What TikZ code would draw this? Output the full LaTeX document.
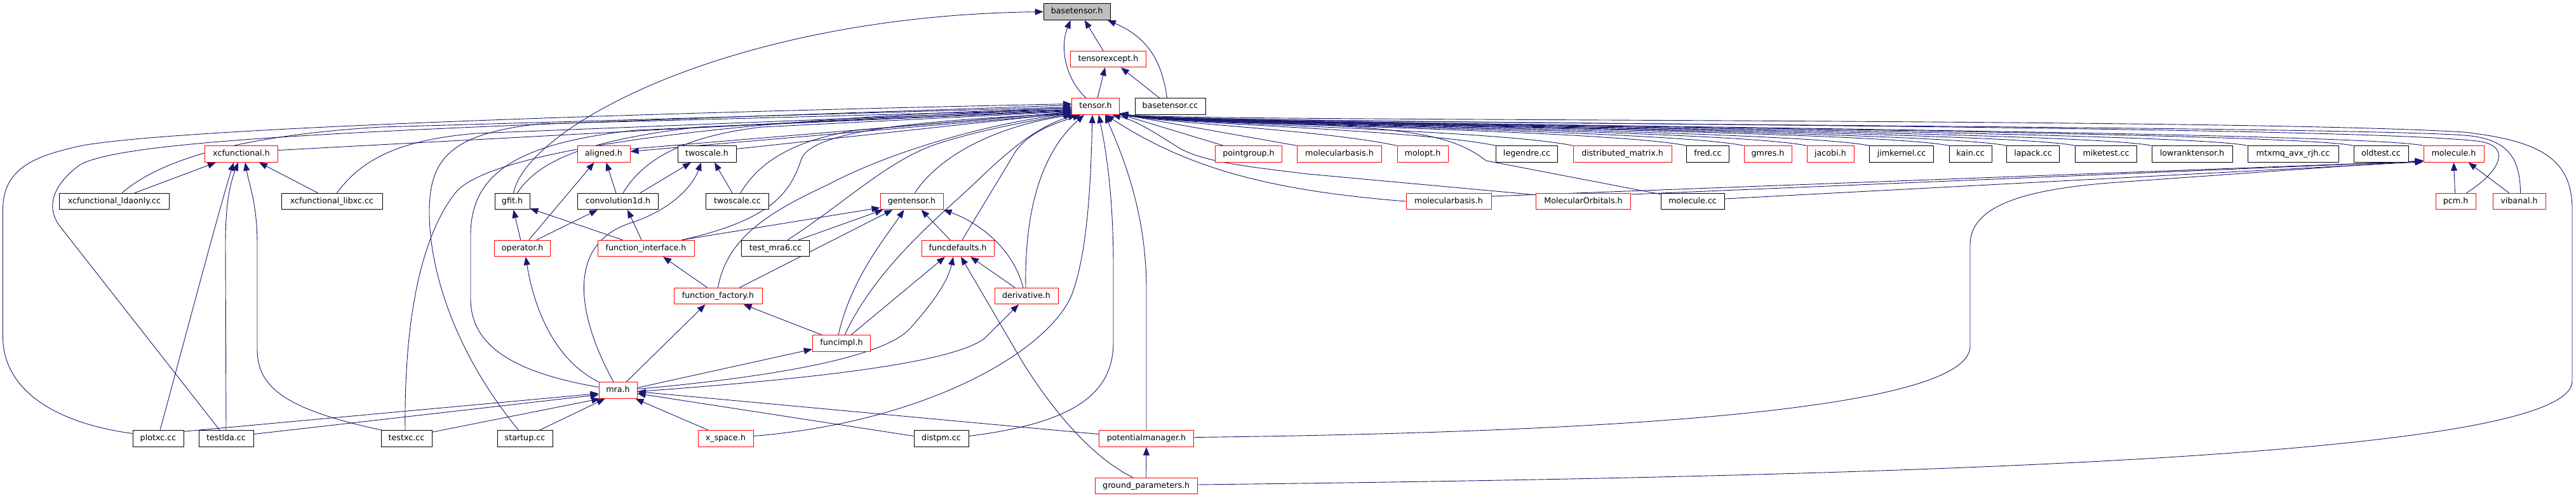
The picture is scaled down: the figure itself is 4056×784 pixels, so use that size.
\documentclass[tikz,border=0pt]{standalone}
\usepackage{fontspec}
\setmainfont{DejaVu Sans}
\usetikzlibrary{arrows.meta,calc}
\definecolor{edgec}{HTML}{191970}
\definecolor{redb}{HTML}{FF0000}
\definecolor{grayf}{HTML}{BFBFBF}
\pgfdeclarelayer{bg}
\pgfsetlayers{bg,main}
\tikzset{
  box/.style={draw, line width=1.0pt, inner sep=0pt, minimum height=25.5pt, fill=white,
    font=\fontsize{12.7}{15}\selectfont, text=black, text height=9.5pt, text depth=2.6pt},
  bk/.style={box, draw=black},
  rd/.style={box, draw=redb},
  gr/.style={box, draw=black, fill=grayf},
  edge/.style={draw=edgec, line width=0.9pt, -{Triangle[length=13pt,width=10pt]}},
}
\begin{document}
\begin{tikzpicture}[x=1pt,y=-1pt]
\useasboundingbox (0,0) rectangle (4056,784);
% row 0-2
\node[gr, minimum width=105pt] (bth) at (1695.7,18.5) {basetensor.h};
\node[rd, minimum width=119pt] (texc) at (1745,93) {tensorexcept.h};
\node[rd, minimum width=75pt] (ten) at (1725,167.5) {tensor.h};
\node[bk, minimum width=111pt] (btcc) at (1842.5,167.5) {basetensor.cc};
% row 3
\node[rd, minimum width=115.5pt] (xcf) at (380,242.5) {xcfunctional.h};
\node[rd, minimum width=83pt] (ali) at (950.5,242.5) {aligned.h};
\node[bk, minimum width=92pt] (tsh) at (1113,242.5) {twoscale.h};
\node[rd, minimum width=104.5pt] (pg) at (1966,242.5) {pointgroup.h};
\node[rd, minimum width=133.5pt] (mb1) at (2109,242.5) {molecularbasis.h};
\node[rd, minimum width=80pt] (mol) at (2240,242.5) {molopt.h};
\node[bk, minimum width=97pt] (leg) at (2404,242.5) {legendre.cc};
\node[rd, minimum width=155pt] (dm) at (2554.6,242.5) {distributed\_matrix.h};
\node[bk, minimum width=67pt] (fred) at (2689,242.5) {fred.cc};
\node[rd, minimum width=75pt] (gmres) at (2783.5,242.5) {gmres.h};
\node[rd, minimum width=74pt] (jac) at (2882,242.5) {jacobi.h};
\node[bk, minimum width=101pt] (jim) at (2994,242.5) {jimkernel.cc};
\node[bk, minimum width=67pt] (kain) at (3102.6,242.5) {kain.cc};
\node[bk, minimum width=83pt] (lap) at (3201,242.5) {lapack.cc};
\node[bk, minimum width=97pt] (mike) at (3316,242.5) {miketest.cc};
\node[bk, minimum width=127pt] (lrt) at (3451.5,242.5) {lowranktensor.h};
\node[bk, minimum width=143pt] (mtx) at (3610.5,242.5) {mtxmq\_avx\_rjh.cc};
\node[bk, minimum width=86pt] (old) at (3749,242.5) {oldtest.cc};
\node[rd, minimum width=95pt] (molh) at (3863.5,242.5) {molecule.h};
% row 4
\node[bk, minimum width=173.5pt] (xcl) at (180,317) {xcfunctional\_ldaonly.cc};
\node[bk, minimum width=159pt] (xcx) at (522.5,317) {xcfunctional\_libxc.cc};
\node[bk, minimum width=55pt] (gfit) at (806.5,317) {gfit.h};
\node[bk, minimum width=127pt] (conv) at (973,317) {convolution1d.h};
\node[bk, minimum width=99pt] (tscc) at (1161,317) {twoscale.cc};
\node[rd, minimum width=99pt] (gen) at (1435.5,317) {gentensor.h};
\node[rd, minimum width=134pt] (mb2) at (2281,317) {molecularbasis.h};
\node[rd, minimum width=149.5pt] (mo) at (2493,317) {MolecularOrbitals.h};
\node[bk, minimum width=100pt] (molcc) at (2665,317) {molecule.cc};
\node[rd, minimum width=63pt] (pcm) at (3866.5,317) {pcm.h};
\node[rd, minimum width=83pt] (vib) at (3966.5,317) {vibanal.h};
% row 5-8
\node[rd, minimum width=88pt] (op) at (822.7,391) {operator.h};
\node[rd, minimum width=152pt] (fi) at (1017,391) {function\_interface.h};
\node[bk, minimum width=107pt] (tm6) at (1221,391) {test\_mra6.cc};
\node[rd, minimum width=114pt] (fd) at (1508,391) {funcdefaults.h};
\node[rd, minimum width=139pt] (ff) at (1130.5,466) {function\_factory.h};
\node[rd, minimum width=100pt] (der) at (1616,466) {derivative.h};
\node[rd, minimum width=91.5pt] (fimpl) at (1325,540.5) {funcimpl.h};
\node[rd, minimum width=60pt] (mra) at (973,614.5) {mra.h};
% row 9-10
\node[bk, minimum width=80pt] (plot) at (249,690.5) {plotxc.cc};
\node[bk, minimum width=86pt] (tlda) at (356,690.5) {testlda.cc};
\node[bk, minimum width=80pt] (txc) at (640,690.5) {testxc.cc};
\node[bk, minimum width=87pt] (start) at (826.5,690.5) {startup.cc};
\node[rd, minimum width=87pt] (xsp) at (1142.5,690.5) {x\_space.h};
\node[bk, minimum width=86pt] (dist) at (1482,690.5) {distpm.cc};
\node[rd, minimum width=149.5pt] (pm) at (1805,690.5) {potentialmanager.h};
\node[rd, minimum width=161pt] (gp) at (1804.7,765) {ground\_parameters.h};

\begin{pgfonlayer}{bg}
% basetensor.h
\draw[edge] ($(ten.north)+(-15,0)$) .. controls (1678,125) and (1668,75) .. ($(bth.south)+(-10,0)$);
\draw[edge] ($(texc.north)+(-8,0)$) -- ($(bth.south)+(12,0)$);
\draw[edge] ($(btcc.north)+(-5,0)$) .. controls (1830,100) and (1810,60) .. ($(bth.south east)+(-5,0)$);
\draw[edge] ($(gfit.north)+(2,0)$) .. controls (830,200) and (1150,25) .. (bth.west);
% tensorexcept.h
\draw[edge] ($(ten.north)+(3,0)$) -- ($(texc.south)+(-5,0)$);
\draw[edge] ($(btcc.north)+(-17,0)$) -- ($(texc.south)+(20,0)$);
% xcfunctional.h
\draw[edge] ($(xcl.north)+(32,0)$) -- ($(xcf.south)+(-40,0)$);
\draw[edge] ($(xcx.north)+(-22,0)$) -- ($(xcf.south)+(28,0)$);
\draw[edge] ($(plot.north)+(3,0)$) .. controls (300,500) and (345,330) .. ($(xcf.south)+(-12,0)$);
\draw[edge] (tlda.north) -- (355,385) .. controls (355,320) and (362,290) .. ($(xcf.south)+(-5,0)$);
\draw[edge] ($(txc.north west)+(2,0)$) .. controls (450,645) and (405,610) .. (405,550) -- (405,385) .. controls (405,320) and (392,290) .. ($(xcf.south)+(6,0)$);
% tensor.h, from the left
\draw[edge] ($(xcf.east)+(0,-6)$) -- ($(ten.west)+(0,2)$);
\draw[edge] ($(xcl.north)+(12,0)$) .. controls (260,245) and (400,212) .. (600,200) -- ($(ten.west)+(0,1)$);
\draw[edge] ($(xcx.north)+(8,0)$) .. controls (570,250) and (630,220) .. (750,210) -- ($(ten.west)+(0,5)$);
\draw[edge] ($(plot.west)+(0,-8)$) .. controls (80,665) and (4.5,610) .. (4.5,530) -- (4.5,330) .. controls (4.5,262) and (60,245) .. (125,230) .. controls (250,205) and (900,180) .. ($(ten.west)+(0,-4)$);
\draw[edge] ($(tlda.north)+(-10,0)$) -- (95,357) .. controls (70,325) and (85,290) .. (125,260) .. controls (200,215) and (700,200) .. ($(ten.west)+(0,-2)$);
\draw[edge] ($(txc.north)+(-2,0)$) .. controls (636,480) and (670,360) .. (720,300) .. controls (800,220) and (1300,180) .. ($(ten.west)+(0,3)$);
\draw[edge] ($(start.north)+(-10,0)$) .. controls (720,560) and (675,430) .. (676,330) .. controls (677,250) and (710,210) .. (850,195) -- ($(ten.west)+(0,5)$);
\draw[edge] ($(mra.west)+(0,-5)$) .. controls (800,585) and (741,540) .. (741,470) -- (741,370) .. controls (741,270) and (820,225) .. (1000,205) -- ($(ten.west)+(0,7)$);
\draw[edge] ($(ali.east)+(0,-8)$) -- ($(ten.west)+(0,9)$);
\draw[edge] ($(ten.west)+(0,11)$) -- ($(ali.east)+(0,-4)$);
\draw[edge] ($(tsh.east)+(0,-8)$) -- ($(ten.west)+(0,10)$);
\draw[edge] ($(gfit.north)+(8,0)$) .. controls (850,250) and (930,220) .. (1100,200) -- ($(ten.west)+(0,6)$);
\draw[edge] ($(conv.north)+(8,0)$) .. controls (1010,255) and (1070,215) .. (1200,200) -- ($(ten.west)+(0,8)$);
\draw[edge] ($(tscc.north)+(5,0)$) .. controls (1195,255) and (1250,220) .. (1350,205) -- ($(ten.west)+(0,9)$);
\draw[edge] ($(fi.north east)+(-20,0)$) .. controls (1220,345) and (1245,300) .. (1262,250) .. controls (1280,205) and (1450,190) .. ($(ten.west)+(0,11)$);
\draw[edge] ($(tm6.north)+(19,0)$) .. controls (1330,320) and (1400,250) .. (1480,225) .. controls (1560,200) and (1640,188) .. ($(ten.west)+(0,11)$);
% tensor.h, from below left
\draw[edge] (ff.north) .. controls (1145,370) and (1220,330) .. (1305,290) .. controls (1400,240) and (1550,195) .. ($(ten.south west)+(0,-2)$);
\draw[edge] ($(gen.north)+(5,0)$) .. controls (1475,250) and (1560,200) .. ($(ten.south west)+(2,0)$);
\draw[edge] ($(fimpl.north)+(5,0)$) .. controls (1380,420) and (1480,340) .. (1533,290) .. controls (1585,240) and (1630,200) .. ($(ten.south west)+(8,0)$);
\draw[edge] ($(fd.north)+(7,0)$) -- (1600,237) .. controls (1625,205) and (1660,195) .. ($(ten.south west)+(15,0)$);
\draw[edge] ($(der.north)+(-1,0)$) .. controls (1613,330) and (1640,240) .. ($(ten.south west)+(20,0)$);
% tensor.h, from below
\draw[edge] ($(xsp.east)+(0,-4)$) .. controls (1450,665) and (1640,560) .. (1685,470) .. controls (1715,400) and (1718,260) .. ($(ten.south)+(-5,0)$);
\draw[edge] ($(dist.east)+(0,-4)$) .. controls (1700,665) and (1752,615) .. (1753,540) -- (1753,420) .. controls (1753,300) and (1740,230) .. ($(ten.south)+(5,0)$);
\draw[edge] (pm.north) -- (1805,455) .. controls (1805,330) and (1765,240) .. ($(ten.south)+(15,0)$);
% tensor.h, from the right
\draw[edge] ($(pg.north west)+(13,0)$) -- ($(ten.south east)+(0,-1)$);
\draw[edge] (mb1.north west) -- ($(ten.south east)+(0,-1)$);
\foreach \n in {mol,leg,dm,fred,gmres,jac,jim,kain,lap,mike,lrt,mtx,old,molh}
  \draw[edge] (\n.north west) .. controls ($(\n.north west)+(-120,-25)$) and (1850,195) .. ($(ten.south east)+(0,-1)$);
\draw[edge] ($(pcm.north east)+(-15,0)$) .. controls (3940,268) and (3955,228) .. (3900,222) .. controls (3650,195) and (1850,195) .. ($(ten.south east)+(0,-2)$);
\draw[edge] ($(vib.north)+(2,0)$) .. controls (3968,250) and (3950,218) .. (3880,213) .. controls (3650,197) and (1850,195) .. ($(ten.south east)+(0,-2)$);
\draw[edge] ($(gp.east)+(0,-2)$) .. controls (3000,750) and (4050,720) .. (4050,600) -- (4050,330) .. controls (4050,250) and (4000,222) .. (3880,208) .. controls (3500,185) and (1850,192) .. ($(ten.south east)+(0,-2)$);
\draw[edge] (mb2.west) .. controls (2000,300) and (1870,265) .. ($(ten.south east)+(-22,0)$);
\draw[edge] ($(mo.north west)+(0,3)$) -- (2060,274) .. controls (1960,262) and (1900,255) .. (1860,235) .. controls (1820,210) and (1790,190) .. ($(ten.south east)+(-12,0)$);
\draw[edge] ($(molcc.north west)+(0,2)$) -- (2340,253) .. controls (2300,222) and (2250,206) .. (2100,198) .. controls (1950,192) and (1850,192) .. ($(ten.south east)+(0,-2)$);
% gfit.h, aligned.h, twoscale.h, convolution1d.h
\draw[edge] ($(op.north)+(-3,0)$) -- ($(gfit.south)+(2,0)$);
\draw[edge] ($(fi.north west)+(40,0)$) -- ($(gfit.south east)+(0,-2)$);
\draw[edge] ($(op.north)+(10,0)$) -- ($(ali.south)+(-15,0)$);
\draw[edge] ($(conv.north)+(-3,0)$) -- ($(ali.south)+(4,0)$);
\draw[edge] ($(conv.north)+(35,0)$) -- ($(tsh.south)+(-25,0)$);
\draw[edge] ($(tscc.north)+(-8,0)$) -- ($(tsh.south)+(12,0)$);
\draw[edge] ($(mra.north)+(-7,0)$) .. controls (905,490) and (895,385) .. (990,352) .. controls (1060,330) and (1092,290) .. ($(tsh.south)+(-9,0)$);
\draw[edge] ($(op.north)+(22,0)$) -- ($(conv.south)+(-32,0)$);
\draw[edge] ($(fi.north)+(-7,0)$) -- ($(conv.south)+(15,0)$);
% function_interface.h, operator.h, function_factory.h, funcimpl.h
\draw[edge] ($(ff.north)+(-17,0)$) -- ($(fi.south)+(27,0)$);
\draw[edge] (mra.north west) .. controls (870,565) and (840,480) .. ($(op.south)+(5,0)$);
\draw[edge] ($(fimpl.north)+(-31,0)$) -- ($(ff.south)+(40,0)$);
\draw[edge] ($(mra.north)+(13,0)$) -- ($(ff.south)+(-20,0)$);
\draw[edge] ($(mra.east)+(0,-4)$) -- ($(fimpl.south west)+(0,-4)$);
% gentensor.h
\draw[edge] ($(fi.north east)+(-20,0)$) -- ($(gen.west)+(0,10)$);
\draw[edge] ($(tm6.north east)+(-18,0)$) -- ($(gen.south west)+(5,0)$);
\draw[edge] ($(ff.north)+(34,0)$) -- ($(gen.south west)+(20,0)$);
\draw[edge] ($(fimpl.north)+(-5,0)$) .. controls (1340,440) and (1390,380) .. ($(gen.south)+(-12,0)$);
\draw[edge] ($(fd.north)+(-12,0)$) -- ($(gen.south east)+(-35,0)$);
\draw[edge] ($(der.north)+(-5,0)$) .. controls (1595,390) and (1540,350) .. (gen.south east);
% funcdefaults.h
\draw[edge] ($(fimpl.north)+(15,0)$) -- ($(fd.south)+(-20,0)$);
\draw[edge] ($(mra.east)+(0,-2)$) .. controls (1200,595) and (1390,565) .. (1433,517) .. controls (1475,470) and (1493,440) .. ($(fd.south)+(-7,0)$);
\draw[edge] ($(der.north)+(-18,0)$) -- ($(fd.south)+(20,0)$);
\draw[edge] ($(gp.north west)+(60,0)$) .. controls (1720,720) and (1660,650) .. (1610,570) -- ($(fd.south)+(5,0)$);
% derivative.h
\draw[edge] ($(mra.east)+(0,2)$) .. controls (1300,595) and (1500,570) .. (1550,533) -- ($(der.south)+(-12,0)$);
% mra.h
\draw[edge] ($(plot.north east)+(0,2)$) -- ($(mra.west)+(0,5)$);
\draw[edge] ($(tlda.east)+(0,-7)$) -- ($(mra.west)+(0,7)$);
\draw[edge] ($(txc.north east)+(0,3)$) -- ($(mra.south west)+(2,0)$);
\draw[edge] ($(start.north)+(23,0)$) -- ($(mra.south west)+(10,0)$);
\draw[edge] ($(xsp.north)+(-27,0)$) -- ($(mra.south east)+(-3,0)$);
\draw[edge] ($(dist.west)+(0,-4)$) -- ($(mra.east)+(0,5)$);
\draw[edge] ($(pm.west)+(0,-7)$) -- ($(mra.east)+(0,2)$);
% potentialmanager.h
\draw[edge] (gp.north) -- (pm.south);
% molecule.h
\draw[edge] ($(pcm.north)+(-1,0)$) -- (molh.south);
\draw[edge] ($(vib.north)+(-16,0)$) -- ($(molh.south east)+(-25,0)$);
\draw[edge] ($(mb2.east)+(0,-8)$) -- ($(molh.south west)+(0,-2)$);
\draw[edge] ($(mo.east)+(0,-11)$) -- ($(molh.south west)+(0,-2)$);
\draw[edge] ($(molcc.east)+(0,-4)$) -- ($(molh.south west)+(0,-1)$);
\draw[edge] ($(pm.east)+(0,-2)$) .. controls (2600,680) and (3102,640) .. (3102,545) -- (3102,385) .. controls (3102,320) and (3200,298) .. (3320,288) -- ($(molh.south west)+(0,-3)$);
\end{pgfonlayer}
\end{tikzpicture}
\end{document}
